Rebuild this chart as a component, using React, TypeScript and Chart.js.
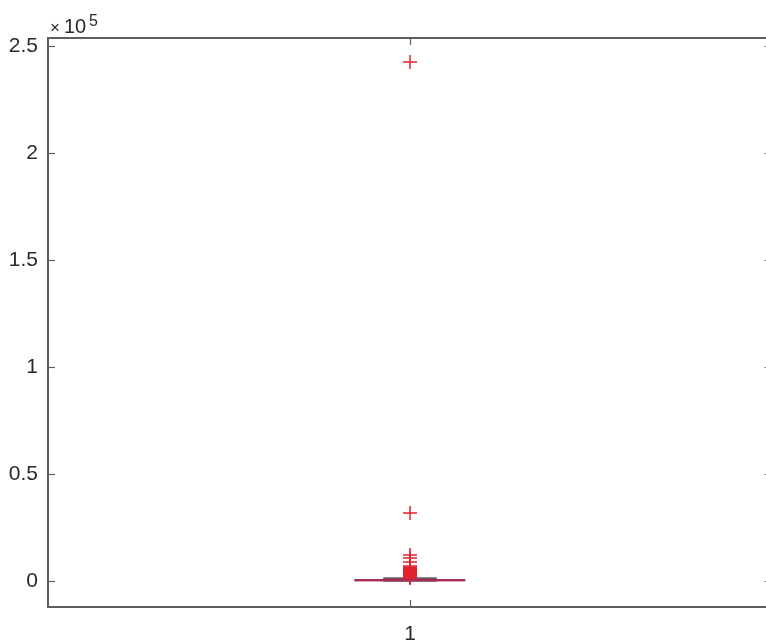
import React, { useEffect, useRef } from "react";
import { Chart, registerables } from "chart.js";

Chart.register(...registerables);

// ---- data ----
const categories = [1];
const yTickValues = [0, 50000, 100000, 150000, 200000, 250000];
const whiskerLow = [0];
const q1Values = [120];
const medianValues = [350];
const q3Values = [700];
const whiskerHigh = [1300];
const outlierValues = [
  242500, 31800, 12200, 10800, 8900, 7000, 6400, 6100, 5800, 5500, 5200, 4900,
  4600, 4300, 4000, 3800, 3600, 3400, 3200, 3000, 2800, 2600, 2400, 2200, 2000,
  1800, 1600, 1450,
];

// ---- styles ----
const BOX_HALF = 0.076;
const CAP_HALF = 0.037;
const AXIS_COLOR = "#5e5e5e";
const TEXT_COLOR = "#2a2a2a";
const RED = "#e2222e";
const FONT = "'Liberation Sans', Arial, Helvetica, sans-serif";

export default function App() {
  const ref = useRef<HTMLCanvasElement | null>(null);

  useEffect(() => {
    const canvas = ref.current;
    if (!canvas) return;
    const c = categories[0];
    const datasets: any[] = [];
    // outliers (drawn on top)
    datasets.push({
      data: outlierValues.map((v) => ({ x: c, y: v })),
      showLine: false,
      pointStyle: "cross",
      pointRadius: 7,
      pointBorderWidth: 1.5,
      pointBorderColor: RED,
      pointBackgroundColor: RED,
    });
    // median
    datasets.push({
      data: [
        { x: c - BOX_HALF, y: medianValues[0] },
        { x: c + BOX_HALF, y: medianValues[0] },
      ],
      showLine: true,
      borderColor: "#b02c4c",
      borderWidth: 2,
      pointRadius: 0,
    });
    // caps
    for (const v of [whiskerLow[0], whiskerHigh[0]]) {
      datasets.push({
        data: [
          { x: c - CAP_HALF, y: v },
          { x: c + CAP_HALF, y: v },
        ],
        showLine: true,
        borderColor: "#3a1520",
        borderWidth: 1.2,
        pointRadius: 0,
      });
    }
    // lower whisker
    datasets.push({
      data: [
        { x: c, y: whiskerLow[0] },
        { x: c, y: q1Values[0] },
      ],
      showLine: true,
      borderColor: "#000",
      borderWidth: 1,
      borderDash: [4, 3],
      pointRadius: 0,
    });
    // upper whisker
    datasets.push({
      data: [
        { x: c, y: q3Values[0] },
        { x: c, y: whiskerHigh[0] },
      ],
      showLine: true,
      borderColor: "#000",
      borderWidth: 1,
      borderDash: [4, 3],
      pointRadius: 0,
    });
    // box
    datasets.push({
      data: [
        { x: c - BOX_HALF, y: q1Values[0] },
        { x: c + BOX_HALF, y: q1Values[0] },
        { x: c + BOX_HALF, y: q3Values[0] },
        { x: c - BOX_HALF, y: q3Values[0] },
        { x: c - BOX_HALF, y: q1Values[0] },
      ],
      showLine: true,
      borderColor: "#6a3090",
      borderWidth: 1,
      pointRadius: 0,
    });

    const framePlugin = {
      id: "frame",
      afterDraw(chart: any) {
        const ctx = chart.ctx;
        const a = chart.chartArea;
        const ys = chart.scales.y;
        const xs = chart.scales.x;
        ctx.save();
        ctx.strokeStyle = AXIS_COLOR;
        ctx.lineWidth = 2;
        // top border
        ctx.beginPath();
        ctx.moveTo(a.left, a.top);
        ctx.lineTo(a.right + 10, a.top);
        ctx.stroke();
        ctx.lineWidth = 1.2;
        // left & right inward ticks
        for (const v of yTickValues) {
          const py = Math.round(ys.getPixelForValue(v)) + 0.5;
          ctx.strokeStyle = AXIS_COLOR;
          ctx.beginPath();
          ctx.moveTo(a.left, py);
          ctx.lineTo(a.left + 7, py);
          ctx.stroke();
          ctx.strokeStyle = "#9a9a9a";
          ctx.beginPath();
          ctx.moveTo(a.right - 2, py);
          ctx.lineTo(a.right, py);
          ctx.stroke();
        }
        // x ticks (bottom & top)
        ctx.strokeStyle = AXIS_COLOR;
        for (const v of categories) {
          const px = Math.round(xs.getPixelForValue(v)) + 0.5;
          ctx.beginPath();
          ctx.moveTo(px, a.bottom);
          ctx.lineTo(px, a.bottom - 7);
          ctx.stroke();
          ctx.beginPath();
          ctx.moveTo(px, a.top);
          ctx.lineTo(px, a.top + 7);
          ctx.stroke();
        }
        // exponent label
        ctx.fillStyle = TEXT_COLOR;
        ctx.textBaseline = "alphabetic";
        ctx.textAlign = "left";
        ctx.font = `17px ${FONT}`;
        ctx.fillText("\u00d7", 50, 33);
        ctx.font = `20px ${FONT}`;
        ctx.fillText("10", 64, 33);
        ctx.font = `16px ${FONT}`;
        ctx.fillText("5", 89, 26);
        ctx.restore();
      },
    };

    const chart = new Chart(canvas, {
      type: "scatter",
      data: { datasets },
      options: {
        animation: false,
        responsive: false,
        devicePixelRatio: 1,
        layout: { autoPadding: false, padding: { top: 38, right: 0, left: 0, bottom: 0 } },
        plugins: {
          legend: { display: false },
          tooltip: { enabled: false },
        },
        scales: {
          x: {
            type: "linear",
            min: 0.5,
            max: 1.4917,
            afterBuildTicks: (s: any) => {
              s.ticks = categories.map((v) => ({ value: v }));
            },
            afterFit: (s: any) => {
              s.height = 35;
              s.paddingLeft = 0;
              s.paddingRight = 0;
            },
            grid: { display: false, drawTicks: false },
            border: { display: true, color: AXIS_COLOR, width: 2 },
            ticks: {
              color: TEXT_COLOR,
              font: { family: FONT, size: 21 },
              padding: 15,
              maxRotation: 0,
              callback: (v: any) => String(v),
            },
          },
          y: {
            type: "linear",
            min: -12150,
            max: 253740,
            afterBuildTicks: (s: any) => {
              s.ticks = yTickValues.map((v) => ({ value: v }));
            },
            afterFit: (s: any) => {
              s.width = 48;
              s.paddingTop = 0;
              s.paddingBottom = 0;
            },
            grid: { display: false, drawTicks: false },
            border: { display: true, color: AXIS_COLOR, width: 2 },
            ticks: {
              color: TEXT_COLOR,
              font: { family: FONT, size: 21 },
              padding: 10,
              callback: (v: any) => String(Number(v) / 100000),
            },
          },
        },
      },
      plugins: [framePlugin],
    });
    return () => chart.destroy();
  }, []);

  return (
    <div style={{ position: "absolute", left: 0, top: 0, width: 766, height: 642, background: "#fff" }}>
      <canvas ref={ref} width={766} height={642} style={{ display: "block", width: 766, height: 642 }} />
    </div>
  );
}
